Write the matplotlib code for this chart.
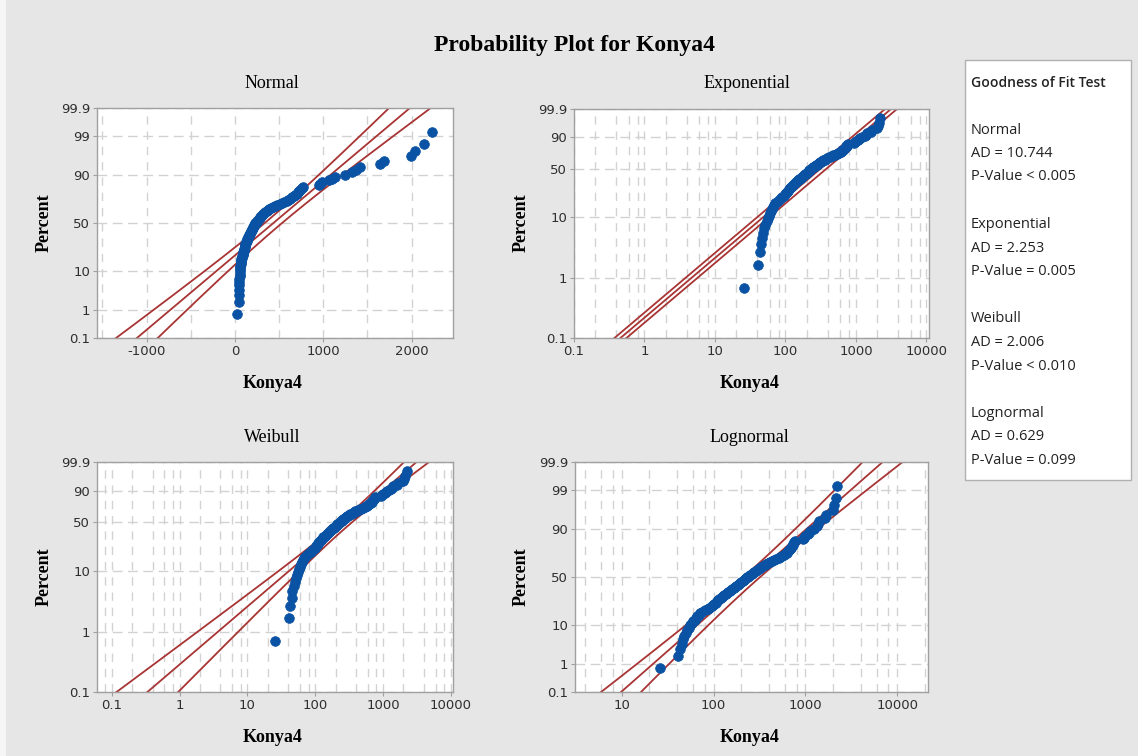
import numpy as np
import matplotlib
matplotlib.use('Agg')
import matplotlib.pyplot as plt
from matplotlib.ticker import LogLocator, NullFormatter
from matplotlib.patches import Rectangle
from statistics import NormalDist

plt.rcParams['lines.scale_dashes'] = False
plt.rcParams['axes.unicode_minus'] = False

# Konya4 sample, sorted
konya4 = [26, 41, 43, 45, 46, 48, 50, 52, 54, 56,
          58, 60, 62, 64, 66, 69, 72, 75, 80, 86,
          90, 95, 98, 102, 106, 109, 112, 115, 119, 123,
          127, 131, 135, 140, 145, 150, 155, 160, 166, 172,
          177, 183, 189, 195, 201, 207, 213, 219, 225, 232,
          238, 245, 252, 260, 268, 278, 288, 298, 309, 320,
          332, 345, 360, 375, 390, 410, 430, 455, 480, 510,
          535, 560, 585, 605, 625, 645, 665, 685, 700, 715,
          725, 740, 755, 770, 950, 965, 990, 1060, 1100, 1130,
          1240, 1330, 1370, 1420, 1640, 1690, 1990, 2040, 2140, 2230]

# fitted parameters
normal_mu, normal_sigma = 435.0, 500.0
expo_theta = 456.0
weib_scale, weib_shape = 425.0, 0.967
logn_median, logn_sigma = 261.0, 1.061

gof_names = ['Normal', 'Exponential', 'Weibull', 'Lognormal']
gof_ad = ['10.744', '2.253', '2.006', '0.629']
gof_p = ['< 0.005', '= 0.005', '< 0.010', '= 0.099']

pct_norm = [0.1, 1, 10, 50, 90, 99, 99.9]
pct_weib = [0.1, 1, 10, 50, 90, 99.9]
pct_norm_lbl = ['0.1', '1', '10', '50', '90', '99', '99.9']
pct_weib_lbl = ['0.1', '1', '10', '50', '90', '99.9']

BLUE = '#0a52a3'
RED = '#a83434'
GRID = '#d2d2d2'
BG = '#e6e6e6'
SERIF = 'Liberation Serif'
SANS = 'Open Sans'

nd = NormalDist()


def zq(p):
    return np.array([nd.inv_cdf(v) for v in np.atleast_1d(p)])


def wq(p):
    p = np.asarray(p, dtype=float)
    return np.log(-np.log(1 - p))


data = np.array(konya4, dtype=float)
n = len(data)
pp = (np.arange(1, n + 1) - 0.3) / (n + 0.4)
k = 1.96

W, H = 1138, 756
fig = plt.figure(figsize=(W / 100, H / 100), dpi=100, facecolor=BG)
# light frame strip on the left edge of the screenshot
fig.patches.append(Rectangle((0, 0), 6 / W, 1, transform=fig.transFigure,
                             facecolor='#f6f6f6', edgecolor='none'))


def px_axes(l, t, r, b):
    return fig.add_axes([l / W, 1 - b / H, (r - l) / W, (b - t) / H])


def fx(x, y):
    return x / W, 1 - y / H


def style(ax, logx):
    ax.set_facecolor('white')
    for s in ax.spines.values():
        s.set_color('#a0a0a0')
        s.set_linewidth(1.0)
    ax.tick_params(which='major', direction='out', length=3, width=0.8,
                   color='#a0a0a0', labelsize=9.5, labelcolor='#2e2e2e', pad=2)
    ax.tick_params(which='minor', length=0)
    if logx:
        ax.set_xscale('log')
        ax.xaxis.set_minor_locator(LogLocator(base=10, subs=[2, 4, 6, 8]))
        ax.xaxis.set_minor_formatter(NullFormatter())
    ax.grid(axis='x', which='both', color=GRID, linewidth=1.0, linestyle=(0, (6, 5)))
    ax.grid(axis='y', which='major', color=GRID, linewidth=1.0, linestyle=(0, (7, 4)))
    ax.set_axisbelow(True)


# ---- Normal ----
ax = px_axes(97, 108, 453, 338)
style(ax, False)
zz = np.linspace(-4, 4, 300)
se = normal_sigma * np.sqrt(1 / n + zz ** 2 / (2 * n))
mid = normal_mu + zz * normal_sigma
for xs in (mid - k * se, mid, mid + k * se):
    ax.plot(xs, zz, color=RED, lw=1.3)
ax.plot(data, zq(pp), 'o', color=BLUE, ms=7, mec=BLUE, mew=0.5)
ax.set_xlim(-1562, 2468)
ax.set_ylim(zq(0.001)[0], zq(0.999)[0])
ax.set_xticks([-1000, 0, 1000, 2000])
ax.set_xticks(np.arange(-1500, 2500, 500), minor=True)
ax.set_yticks(zq(np.array(pct_norm) / 100))
ax.set_yticklabels(pct_norm_lbl)

# ---- Exponential ----
ax = px_axes(574, 109, 929, 338)
style(ax, True)
ww = np.linspace(-9, 3, 300)
mid = expo_theta * np.exp(ww)
f = np.exp(k / np.sqrt(n))
for xs in (mid / f, mid, mid * f):
    ax.plot(xs, ww, color=RED, lw=1.3)
ax.plot(data, wq(pp), 'o', color=BLUE, ms=7, mec=BLUE, mew=0.5)
ax.set_xlim(0.1, 10900)
ax.set_ylim(wq(0.001), wq(0.999))
ax.set_xticks([0.1, 1, 10, 100, 1000, 10000])
ax.set_xticklabels(['0.1', '1', '10', '100', '1000', '10000'])
ax.set_yticks(wq(np.array(pct_weib) / 100))
ax.set_yticklabels(pct_weib_lbl)

# ---- Weibull ----
ax = px_axes(97, 462, 453, 692)
style(ax, True)
b = 1 / weib_shape
mid = weib_scale * np.exp(ww * b)
se = b / np.sqrt(n) * np.sqrt(1.1087 + 2 * 0.2570 * ww + 0.6079 * ww ** 2)
for xs in (mid * np.exp(-k * se), mid, mid * np.exp(k * se)):
    ax.plot(xs, ww, color=RED, lw=1.3)
ax.plot(data, wq(pp), 'o', color=BLUE, ms=7, mec=BLUE, mew=0.5)
ax.set_xlim(0.0607, 10800)
ax.set_ylim(wq(0.001), wq(0.999))
ax.set_xticks([0.1, 1, 10, 100, 1000, 10000])
ax.set_xticklabels(['0.1', '1', '10', '100', '1000', '10000'])
ax.set_yticks(wq(np.array(pct_weib) / 100))
ax.set_yticklabels(pct_weib_lbl)

# ---- Lognormal ----
ax = px_axes(575, 462, 928, 692)
style(ax, True)
mu_l = np.log(logn_median)
se = logn_sigma * np.sqrt(1 / n + zz ** 2 / (2 * n))
mid = mu_l + zz * logn_sigma
for ls in (mid - k * se, mid, mid + k * se):
    ax.plot(np.exp(ls), zz, color=RED, lw=1.3)
ax.plot(data, zq(pp), 'o', color=BLUE, ms=7, mec=BLUE, mew=0.5)
ax.set_xlim(3.1, 21600)
ax.set_ylim(zq(0.001)[0], zq(0.999)[0])
ax.set_xticks([10, 100, 1000, 10000])
ax.set_xticklabels(['10', '100', '1000', '10000'])
ax.set_yticks(zq(np.array(pct_norm) / 100))
ax.set_yticklabels(pct_norm_lbl)

# ---- titles and labels ----
fig.text(*fx(575, 45), 'Probability Plot for Konya4', family=SERIF,
         fontsize=17, fontweight='bold', ha='center', va='center')
for x, y, t in [(272, 83, 'Normal'), (747, 83, 'Exponential'),
                (272, 437, 'Weibull'), (749, 437, 'Lognormal')]:
    fig.text(*fx(x, y), t, family=SERIF, fontsize=13, ha='center', va='center')
for x, y in [(273, 383), (750, 383), (273, 738), (750, 738)]:
    fig.text(*fx(x, y), 'Konya4', family=SERIF, fontsize=13,
             fontweight='bold', ha='center', va='center')
for x, y in [(44, 223), (521, 223), (44, 577), (521, 577)]:
    fig.text(*fx(x, y), 'Percent', family=SERIF, fontsize=13,
             fontweight='bold', ha='center', va='center', rotation=90)

# ---- goodness of fit box ----
fig.patches.append(Rectangle(fx(965, 480), 166 / W, 420 / H, transform=fig.transFigure,
                             facecolor='white', edgecolor='#b0b0b0', lw=1.0))
fig.text(*fx(971, 83), 'Goodness of Fit Test', family=SANS, fontweight='semibold',
         fontsize=10, color='#222222', va='center')
y0 = 130
for i, name in enumerate(gof_names):
    y = y0 + i * 94.5
    fig.text(*fx(971, y), name, family=SANS, fontsize=10.5, color='#222222', va='center')
    fig.text(*fx(971, y + 23.5), 'AD = ' + gof_ad[i], family=SANS,
             fontsize=10.5, color='#222222', va='center')
    fig.text(*fx(971, y + 47), 'P-Value ' + gof_p[i], family=SANS,
             fontsize=10.5, color='#222222', va='center')

fig.savefig('out.png', dpi=100, facecolor=BG)
